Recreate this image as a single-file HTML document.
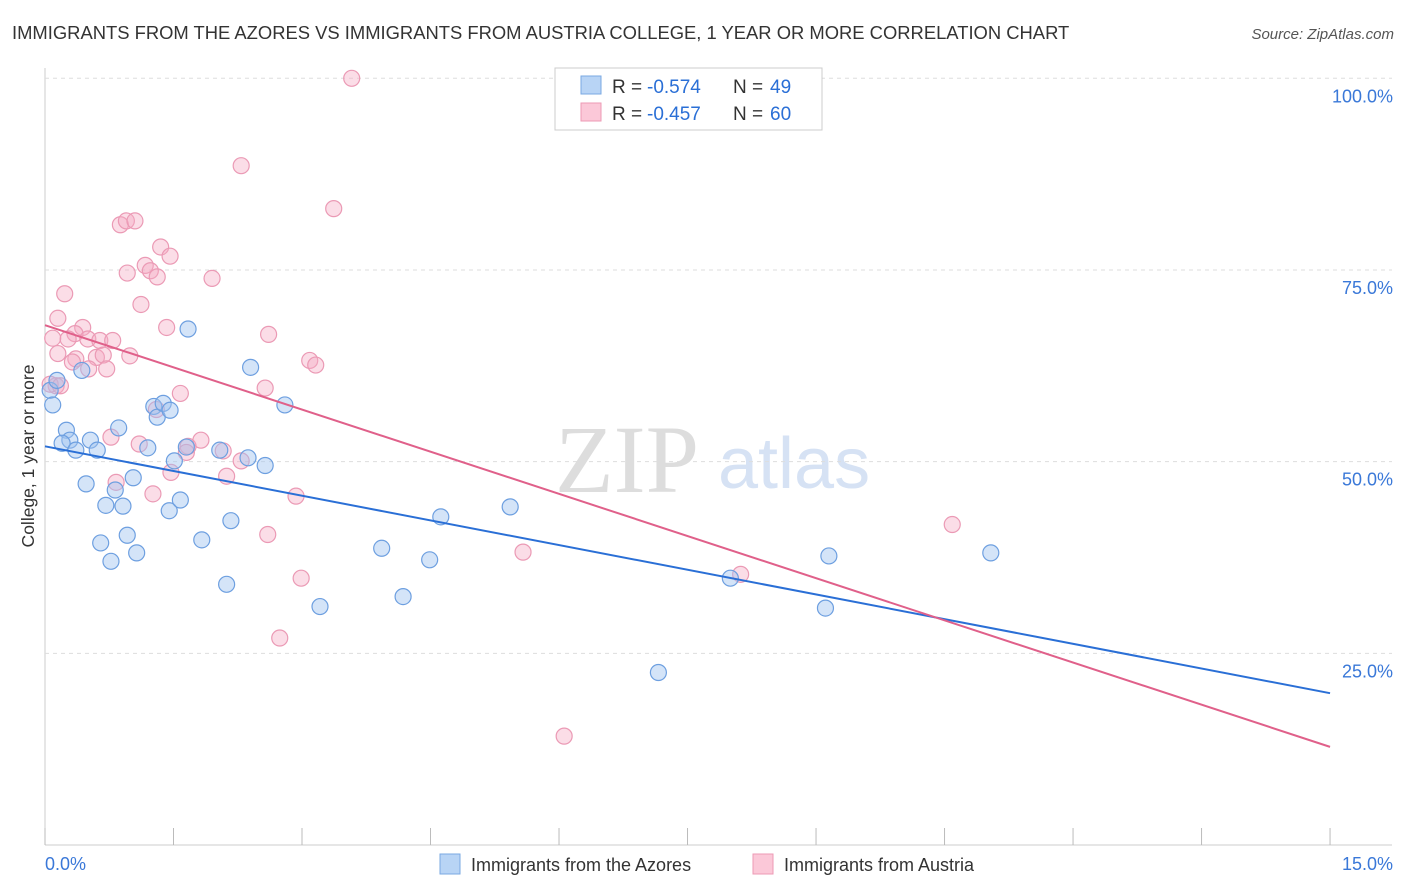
<!DOCTYPE html>
<html><head><meta charset="utf-8">
<style>
body{margin:0;background:#fff;font-family:"Liberation Sans",sans-serif;}
#wrap{position:relative;width:1406px;height:892px;overflow:hidden}
</style></head>
<body>
<div id="wrap">
<svg id="svg" width="1406" height="892" xmlns="http://www.w3.org/2000/svg">
<text x="12" y="39" font-size="18.4" fill="#333">IMMIGRANTS FROM THE AZORES VS IMMIGRANTS FROM AUSTRIA COLLEGE, 1 YEAR OR MORE CORRELATION CHART</text>
<text x="1394" y="39" font-size="15" fill="#555" font-style="italic" text-anchor="end">Source: ZipAtlas.com</text>
<text x="34" y="456" font-size="17.5" fill="#333" text-anchor="middle" transform="rotate(-90 34 456)">College, 1 year or more</text>
<text x="555" y="492" font-size="96" fill="#ddd" font-family="Liberation Serif,serif">ZIP</text>
<text x="718" y="488" font-size="72" fill="#d6e2f4">atlas</text>
<g id="grid"></g><g id="pts"></g><g id="lines"></g>
<g>
<rect x="555" y="68" width="267" height="62" fill="#fff" stroke="#ccc"/>
<rect x="581" y="76" width="20" height="18" fill="#b8d4f5" stroke="#7aa8e2"/>
<rect x="581" y="103" width="20" height="18" fill="#fbc8d8" stroke="#ec9ab4"/>
<text y="93" font-size="19" fill="#333"><tspan x="612">R =</tspan><tspan x="647" fill="#2a6fd6">-0.574</tspan><tspan x="733">N =</tspan><tspan x="770" fill="#2a6fd6">49</tspan></text>
<text y="120" font-size="19" fill="#333"><tspan x="612">R =</tspan><tspan x="647" fill="#2a6fd6">-0.457</tspan><tspan x="733">N =</tspan><tspan x="770" fill="#2a6fd6">60</tspan></text>
</g>
<g>
<rect x="440" y="854" width="20" height="20" fill="#b8d4f5" stroke="#7aa8e2"/>
<text x="471" y="871" font-size="18" fill="#333">Immigrants from the Azores</text>
<rect x="753" y="854" width="20" height="20" fill="#fbc8d8" stroke="#ec9ab4"/>
<text x="784" y="871" font-size="18" fill="#333">Immigrants from Austria</text>
</g>
</svg>
</div>
<script>
const xTicks=[0,1.5,3,4.5,6,7.5,9,10.5,12,13.5,15];
const yTickValues=[25,50,75,100];
const yTickLabels=["25.0%","50.0%","75.0%","100.0%"];
const azoresX=[0.06,0.09,0.14,0.25,0.29,0.2,0.36,0.53,0.61,0.43,0.48,0.65,0.71,0.77,0.82,0.91,0.96,1.03,0.86,1.07,1.2,1.27,1.31,1.38,1.46,1.51,1.45,1.58,1.67,1.65,1.83,2.04,2.17,2.12,2.37,2.4,2.57,2.8,3.21,3.93,4.18,4.49,4.62,5.43,7.16,8.0,9.11,9.15,11.04];
const azoresY=[59.3,57.4,60.6,54.1,52.8,52.4,51.5,52.8,51.5,61.9,47.1,39.4,44.3,37.0,46.3,44.2,40.4,47.9,54.4,38.1,51.8,57.2,55.8,57.6,56.7,50.1,43.6,45.0,67.3,51.9,39.8,51.5,42.3,34.0,50.5,62.3,49.5,57.4,31.1,38.7,32.4,37.2,42.8,44.1,22.5,34.8,30.9,37.7,38.1];
const austriaX=[3.58,2.29,3.37,0.88,0.95,1.05,1.35,1.46,1.17,1.23,0.96,1.31,1.95,1.12,0.23,0.15,1.42,2.61,0.44,0.35,0.09,0.27,0.5,0.64,0.79,0.15,0.36,0.6,0.68,0.99,0.32,0.51,0.72,0.13,3.09,3.16,2.57,1.58,1.3,0.77,1.1,1.67,1.65,1.82,2.08,2.29,1.47,2.12,0.83,1.26,2.93,2.6,2.99,2.74,5.58,8.12,10.59,6.06,0.06,0.18];
const austriaY=[100,88.6,83.0,80.9,81.4,81.4,78.0,76.8,75.6,74.9,74.6,74.1,73.9,70.5,71.9,68.7,67.5,66.6,67.5,66.7,66.1,66.0,66.0,65.8,65.8,64.1,63.4,63.6,63.9,63.8,63.0,62.1,62.1,59.9,63.2,62.6,59.6,58.9,56.8,53.2,52.3,52.0,51.2,52.8,51.4,50.1,48.6,48.1,47.3,45.8,45.5,40.5,34.8,27.0,38.2,35.3,41.8,14.2,60.1,59.9];
const azoresTrend=[52.0,19.8];
const austriaTrend=[67.8,12.8];
const NS="http://www.w3.org/2000/svg";
function X(v){return 45+v*85.67;}
function Y(v){return 845-v*7.667;}
function mk(t,a,p){const e=document.createElementNS(NS,t);for(const k in a)e.setAttribute(k,a[k]);p.appendChild(e);return e;}
const grid=document.getElementById('grid');
let ax=mk('line',{x1:45,y1:845,x2:1392,y2:845,stroke:'#ccc'},grid);


let ay=mk('line',{x1:45,y1:68,x2:45,y2:845,stroke:'#ccc'},grid);


yTickValues.forEach((v,i)=>{
 let g=mk('line',{x1:45,y1:Y(v),x2:1392,y2:Y(v),stroke:'#ddd','stroke-dasharray':'4,4'},grid);
 
 
 let t=mk('text',{x:1393,y:Y(v)+24,'font-size':18,fill:'#3a78d8','text-anchor':'end'},grid);
 t.textContent=yTickLabels[i];
 
 
});
xTicks.forEach(v=>{
 let l=mk('line',{x1:X(v),y1:828,x2:X(v),y2:845,stroke:'#bbb'},grid);
 
 
});
let xl0=mk('text',{x:45,y:870,'font-size':18,fill:'#3a78d8'},grid);xl0.textContent='0.0%';


let xl1=mk('text',{x:1393,y:870,'font-size':18,fill:'#3a78d8','text-anchor':'end'},grid);xl1.textContent='15.0%';


const pts=document.getElementById('pts');
austriaX.forEach((v,i)=>{
 let c=mk('circle',{cx:X(v),cy:Y(austriaY[i]),r:8,fill:'rgba(245,170,196,0.4)',stroke:'#eb9ab5','stroke-width':1.2},pts);
 
 
});
azoresX.forEach((v,i)=>{
 let c=mk('circle',{cx:X(v),cy:Y(azoresY[i]),r:8,fill:'rgba(160,195,240,0.45)',stroke:'#6d9fe0','stroke-width':1.2},pts);
 
 
});
const lines=document.getElementById('lines');
let l1=mk('line',{x1:X(0),y1:Y(azoresTrend[0]),x2:X(15),y2:Y(azoresTrend[1]),stroke:'#2a6fd6','stroke-width':2},lines);


let l2=mk('line',{x1:X(0),y1:Y(austriaTrend[0]),x2:X(15),y2:Y(austriaTrend[1]),stroke:'#e0608a','stroke-width':2},lines);


</script>
</body></html>
